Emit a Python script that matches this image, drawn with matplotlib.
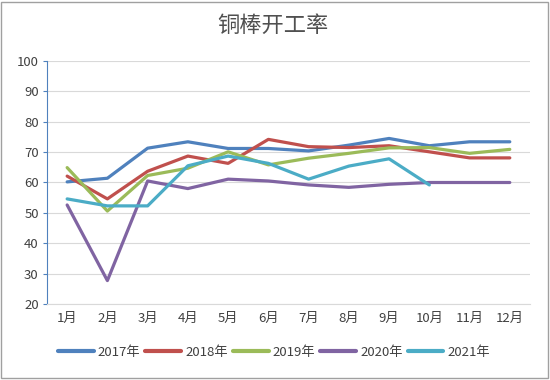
import matplotlib.pyplot as plt

plt.rcParams['font.family'] = ['Noto Sans CJK SC', 'DejaVu Sans']

months = [f"{i}月" for i in range(1, 13)]
y2017 = [60.2, 61.4, 71.3, 73.4, 71.2, 71.2, 70.4, 72.3, 74.5, 72.1, 73.4, 73.4]
y2018 = [62.1, 54.6, 63.7, 68.7, 66.3, 74.2, 71.8, 71.5, 72.1, 70.1, 68.1, 68.1]
y2019 = [64.9, 50.6, 62.3, 64.7, 70.1, 65.8, 68.0, 69.6, 71.4, 71.5, 69.6, 70.9]
y2020 = [52.6, 27.7, 60.5, 58.0, 61.1, 60.5, 59.2, 58.4, 59.4, 60.0, 60.0, 60.0]
y2021 = [54.6, 52.3, 52.3, 65.5, 68.7, 66.3, 61.1, 65.4, 67.8, 59.2]

series = [
    ("2017年", y2017, "#4F81BD"),
    ("2018年", y2018, "#C0504D"),
    ("2019年", y2019, "#9BBB59"),
    ("2020年", y2020, "#8064A2"),
    ("2021年", y2021, "#4BACC6"),
]

fig = plt.figure(figsize=(5.5, 3.8), dpi=100)
ax = fig.add_axes([0.0855, 0.2, 0.878, 0.6395])

x = list(range(1, 13))
for label, vals, color in series:
    ax.plot(x[:len(vals)], vals, color=color, lw=2.3, label=label,
            solid_capstyle='round', solid_joinstyle='round')

ax.set_xlim(0.5, 12.5)
ax.set_ylim(20, 100)
ax.set_yticks(range(20, 101, 10))
ax.set_xticks(x)
ax.set_xticklabels(months)
ax.tick_params(axis='both', labelsize=9.5, colors='#404040', length=0, pad=6)
ax.tick_params(axis='y', length=3, color='#4F81BD', direction='out', pad=3)
ax.grid(True, axis='y', color='#D9D9D9', lw=0.8)
ax.set_axisbelow(True)
for s in ['top', 'right']:
    ax.spines[s].set_visible(False)
ax.spines['left'].set_color('#4F81BD')
ax.spines['bottom'].set_color('#D9D9D9')

fig.text(0.497, 0.934, "铜棒开工率", ha='center', va='center', fontsize=16,
         color='#505050', fontweight='light')

leg = ax.legend(loc='center', bbox_to_anchor=(0.47, -0.2), ncol=5, frameon=False,
                fontsize=9.5, handlelength=2.7, handletextpad=0.3, columnspacing=0.4,
                labelcolor='#404040')
for line in leg.get_lines():
    line.set_linewidth(3)

# Rahmen um die Abbildung
fig.patches.append(plt.Rectangle((0.002, 0.004), 0.994, 0.992, transform=fig.transFigure,
                                 fill=False, edgecolor='#A0A0A0', lw=1))

fig.savefig("out.png", dpi=100, facecolor="white")
